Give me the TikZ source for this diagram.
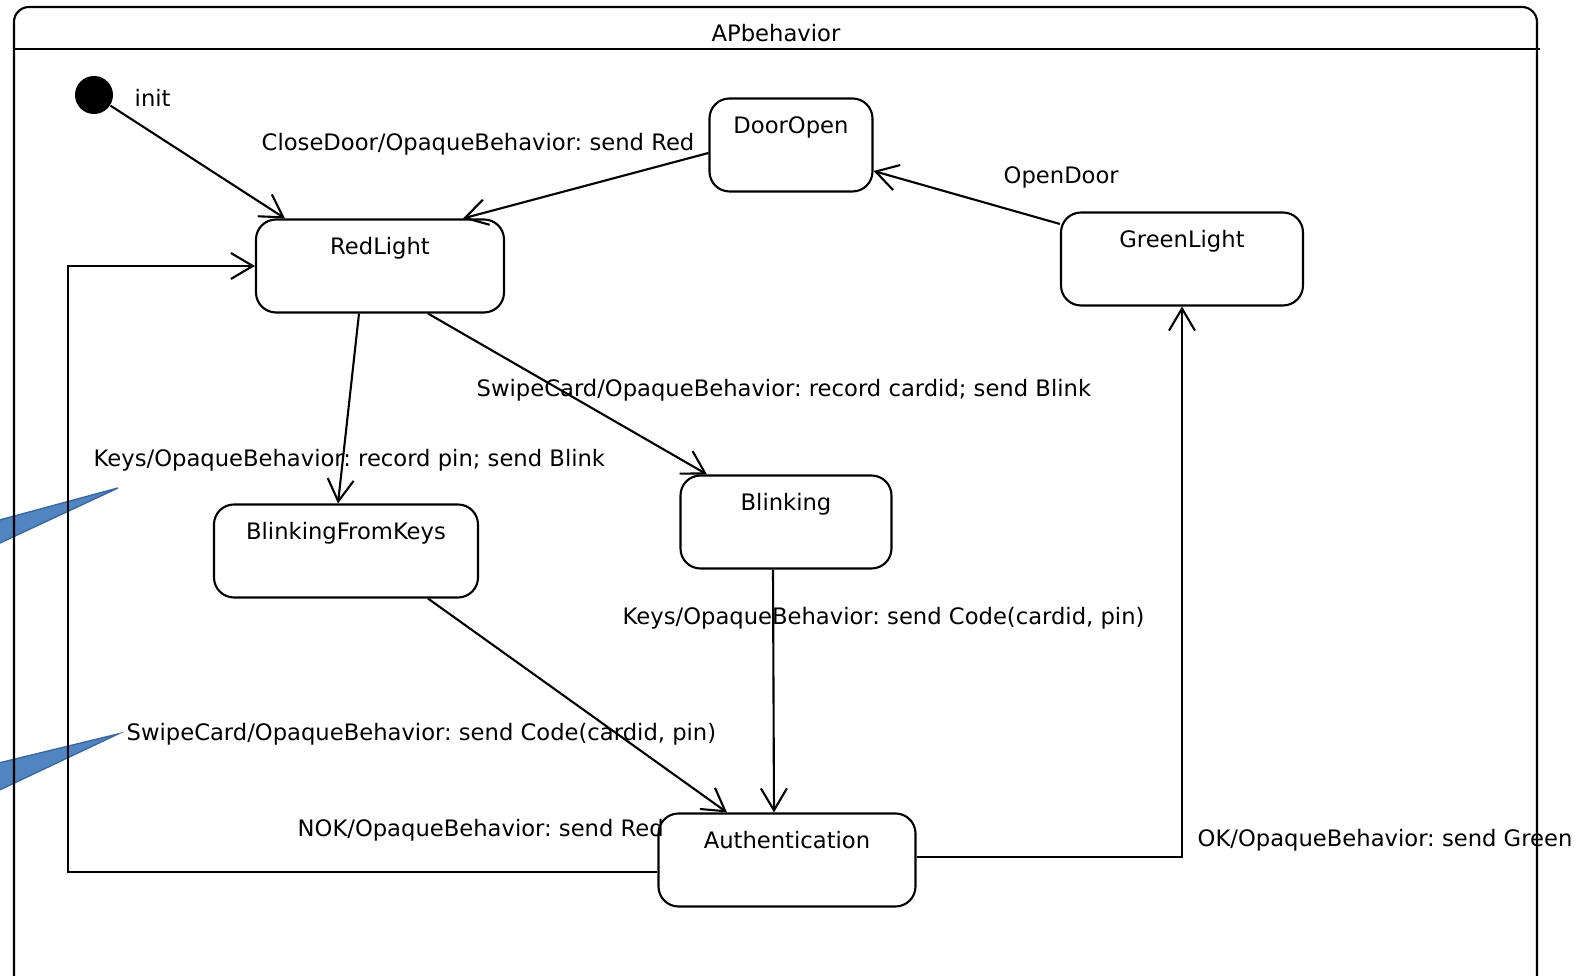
\documentclass[tikz,border=0pt]{standalone}
\usepackage{fontspec}
\setmainfont{DejaVu Sans}
\usetikzlibrary{arrows.meta}
\definecolor{calloutblue}{RGB}{80,133,194}
\definecolor{calloutedge}{RGB}{58,104,158}
\newcommand{\umlfont}{\fontsize{6.45}{8}\selectfont}
\frenchspacing

\begin{document}
\begin{tikzpicture}[
    state/.style={draw, line width=0.6pt, rounded corners=0.2cm, minimum height=0.93cm, inner ysep=0pt, text height=0.35cm, text depth=0.58cm, font=\umlfont},
    initial/.style={circle, fill=black, minimum size=0.38cm, inner sep=0pt},
    trans/.style={-{Straight Barb[length=0.22cm, width=0.26cm]}, line width=0.6pt},
    lbl/.style={anchor=west, inner sep=0pt, font=\umlfont},
    callout/.style={fill=calloutblue, draw=calloutedge, line width=0.4pt},
]
\clip (0,0) rectangle (15.78,9.76);

% --- Callout pointers (behind everything) ---
\filldraw[callout] (1.18,4.88) -- (-0.3,4.48) -- (-0.3,4.19) -- cycle;
\filldraw[callout] (1.18,2.42) -- (-0.3,2.06) -- (-0.3,1.72) -- cycle;

% --- Frame ---
\draw[line width=0.6pt, rounded corners=0.15cm] (0.14,-0.2) rectangle (15.37,9.69);
\draw[line width=0.6pt] (0.14,9.27) -- (15.40,9.27);
\node[font=\umlfont] (title) at (7.76,9.43) {APbehavior};

% --- States ---
\node[initial] (init) at (0.94,8.81) {};
\node[state, minimum width=1.63cm] (DoorOpen) at (7.91,8.31) {DoorOpen};
\node[state, minimum width=2.48cm] (RedLight) at (3.80,7.10) {RedLight};
\node[state, minimum width=2.42cm] (GreenLight) at (11.82,7.17) {GreenLight};
\node[state, minimum width=2.64cm] (BlinkingFromKeys) at (3.46,4.25) {BlinkingFromKeys};
\node[state, minimum width=2.11cm] (Blinking) at (7.86,4.54) {Blinking};
\node[state, minimum width=2.57cm] (Authentication) at (7.87,1.16) {Authentication};

\coordinate (nokbend) at (0.68,4);

% === Transitions ===
\draw[trans] (init) -- ([xshift=-0.95cm]RedLight.north);
\draw[trans] ([yshift=-0.08cm]DoorOpen.west) -- ([xshift=0.83cm]RedLight.north);
\draw[trans] ([yshift=0.35cm]GreenLight.west) -- ([yshift=-0.26cm]DoorOpen.east);
\draw[trans] ([xshift=-0.21cm]RedLight.south) -- ([xshift=-0.08cm]BlinkingFromKeys.north);
\draw[trans] ([xshift=0.48cm]RedLight.south) -- ([xshift=-0.79cm]Blinking.north);
\draw[trans] ([xshift=-0.13cm]Blinking.south) -- ([xshift=-0.13cm]Authentication.north);
\draw[trans] ([xshift=0.82cm]BlinkingFromKeys.south) -- ([xshift=-0.60cm]Authentication.north);
\draw[trans] ([yshift=-0.12cm]Authentication.west) -| (nokbend) |- (RedLight.west);
\draw[trans] ([yshift=0.03cm]Authentication.east) -| (GreenLight.south);

% === Labels ===
\node[lbl] (initlbl) at (1.34,8.78) {init};
\node[lbl] (closedoor) at (2.61,8.32) {CloseDoor/OpaqueBehavior: send Red};
\node[lbl] (opendoor) at (10.03,7.99) {OpenDoor};
\node[lbl] (keyspin) at (0.93,5.16) {Keys/OpaqueBehavior: record pin; send Blink};
\node[lbl] (swipecard) at (4.76,5.86) {SwipeCard/OpaqueBehavior: record cardid; send Blink};
\node[lbl] (keyscode) at (6.22,3.58) {Keys/OpaqueBehavior: send Code(cardid, pin)};
\node[lbl] (swipecode) at (1.26,2.42) {SwipeCard/OpaqueBehavior: send Code(cardid, pin)};
\node[lbl] (nok) at (2.97,1.46) {NOK/OpaqueBehavior: send Red};
\node[lbl] (ok) at (11.97,1.36) {OK/OpaqueBehavior: send Green};

\end{tikzpicture}
\end{document}
